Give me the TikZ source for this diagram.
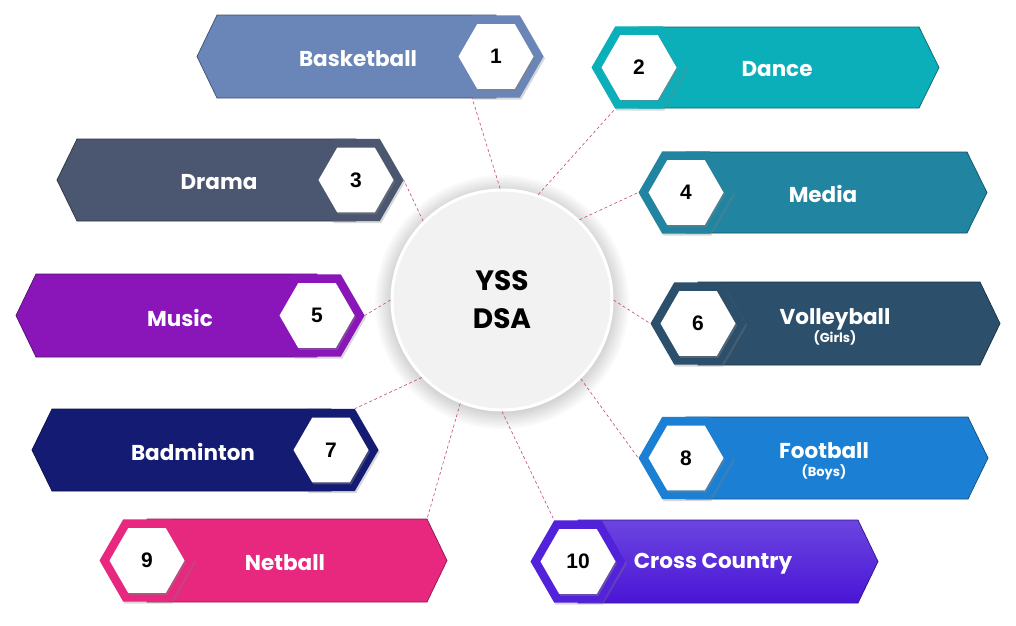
\documentclass[tikz,border=0pt]{standalone}
\usepackage{fontspec}
\setmainfont{Poppins}
\newfontfamily\numfont{Liberation Sans}
\newcommand\subsize{\fontsize{13}{15}\selectfont}
\usetikzlibrary{shapes.geometric,shadows}

\definecolor{cBasket}{HTML}{6A86B8}
\definecolor{cDance}{HTML}{0AAFB9}
\definecolor{cDrama}{HTML}{4B5670}
\definecolor{cMedia}{HTML}{2185A1}
\definecolor{cMusic}{HTML}{8A16BA}
\definecolor{cVolley}{HTML}{2C4F6B}
\definecolor{cBadmin}{HTML}{131B73}
\definecolor{cFoot}{HTML}{1B80D4}
\definecolor{cNet}{HTML}{E8277F}
\definecolor{cCrossTop}{HTML}{6B45E0}
\definecolor{cCross}{HTML}{5222DA}
\definecolor{cCrossBot}{HTML}{4A15D6}
\definecolor{cHub}{HTML}{F2F2F2}
\definecolor{cLink}{HTML}{C2467A}

\tikzset{
  outerhex/.style={regular polygon, regular polygon sides=6, minimum size=95pt,
    inner sep=0pt, drop shadow={opacity=0.3, shadow xshift=1.5pt, shadow yshift=-2pt}},
  innerhex/.style={regular polygon, regular polygon sides=6, minimum size=75pt,
    inner sep=0pt, fill=white, font=\numfont\bfseries\fontsize{21}{24}\selectfont,
    drop shadow={opacity=0.45, shadow xshift=1.5pt, shadow yshift=-2pt}},
  itemlabel/.style={text=white, align=center, font=\bfseries\fontsize{21.5}{24}\selectfont},
  hub/.style={circle, minimum size=220pt, inner sep=0pt, fill=cHub, draw=white,
    line width=3pt, align=center, font=\bfseries\fontsize{28}{38}\selectfont},
  link/.style={draw=cLink, line width=0.6pt, dash pattern=on 3pt off 2.5pt},
}

\begin{document}
\begin{tikzpicture}[x=1pt, y=-1pt]
  \useasboundingbox[fill=white] (0,0) rectangle (1016,625);

  % banners
  \fill[cBasket, draw=cBasket!60!black, line width=0.7pt] (197,56.5) -- (217,15) -- (496,15) -- (496,98) -- (217,98) -- cycle;
  \fill[cDance, draw=cDance!60!black, line width=0.7pt] (939,67.5) -- (919,27) -- (639,27) -- (639,108) -- (919,108) -- cycle;
  \fill[cDrama, draw=cDrama!60!black, line width=0.7pt] (57,180) -- (77,139) -- (356,139) -- (356,221) -- (77,221) -- cycle;
  \fill[cMedia, draw=cMedia!60!black, line width=0.7pt] (987,192.5) -- (967,152) -- (686,152) -- (686,233) -- (967,233) -- cycle;
  \fill[cMusic, draw=cMusic!60!black, line width=0.7pt] (16,315.5) -- (36,274) -- (317,274) -- (317,357) -- (36,357) -- cycle;
  \fill[cVolley, draw=cVolley!60!black, line width=0.7pt] (1000,323.5) -- (980,282) -- (698,282) -- (698,365) -- (980,365) -- cycle;
  \fill[cBadmin, draw=cBadmin!60!black, line width=0.7pt] (32,450) -- (52,409) -- (331,409) -- (331,491) -- (52,491) -- cycle;
  \fill[cFoot, draw=cFoot!60!black, line width=0.7pt] (988,458) -- (968,417) -- (686,417) -- (686,499) -- (968,499) -- cycle;
  \coordinate (c9) at (427,519);
  \fill[cNet, draw=cNet!60!black, line width=0.7pt] (447,560.5) -- (c9) -- (147,519) -- (147,602) -- (427,602) -- cycle;
  \shade[top color=cCrossTop, bottom color=cCrossBot, draw=cCross!60!black, line width=0.7pt] (878,561.5) -- (858,520) -- (578,520) -- (578,603) -- (858,603) -- cycle;

  % number hexagons
  \node[outerhex, fill=cBasket] (h1) at (496,56.5) {};
  \node[outerhex, fill=cDance] (h2) at (639,67.5) {};
  \node[outerhex, fill=cDrama] (h3) at (356,180) {};
  \node[outerhex, fill=cMedia] (h4) at (686,192.5) {};
  \node[outerhex, fill=cMusic] (h5) at (317,315.5) {};
  \node[outerhex, fill=cVolley] (h6) at (698,323.5) {};
  \node[outerhex, fill=cBadmin] (h7) at (331,450) {};
  \node[outerhex, fill=cFoot] (h8) at (686,458) {};
  \node[outerhex, fill=cNet] (h9) at (147,560.5) {};
  \node[outerhex, fill=cCross] (h10) at (578,561.5) {};

  \node[innerhex] (n1) at (h1) {1};
  \node[innerhex] (n2) at (h2) {2};
  \node[innerhex] (n3) at (h3) {3};
  \node[innerhex] (n4) at (h4) {4};
  \node[innerhex] (n5) at (h5) {5};
  \node[innerhex] (n6) at (h6) {6};
  \node[innerhex] (n7) at (h7) {7};
  \node[innerhex] (n8) at (h8) {8};
  \node[innerhex] (n9) at (h9) {9};
  \node[innerhex] (n10) at (h10) {10};

  % labels
  \node[itemlabel] (t1) at (358,58.5) {Basketball};
  \node[itemlabel] (t2) at (777,69.5) {Dance};
  \node[itemlabel] (t3) at (219,182) {Drama};
  \node[itemlabel] (t4) at (823,194) {Media};
  \node[itemlabel] (t5) at (180,317.5) {Music};
  \node[itemlabel] (t6) at (835,327) {Volleyball\\[-6pt]{\subsize (Girls)}};
  \node[itemlabel] (t7) at (193,452) {Badminton};
  \node[itemlabel] (t8) at (824,461) {Football\\[-6pt]{\subsize (Boys)}};
  \node[itemlabel] (t9) at (285,562.5) {Netball};
  \node[itemlabel] (t10) at (713,563.5) {Cross Country};

  % centre
  \foreach \r in {111,113,...,127}
    \fill[black, opacity=0.02] (502,302) circle[radius=\r pt];
  \node[hub] (hub) at (502,300) {YSS\\DSA};

  % links
  \draw[link] (hub.91) -- (h1.240);
  \draw[link] (hub.71) -- (h2.240);
  \draw[link] (hub.135) -- (h3.0);
  \draw[link] (hub.46) -- (h4.180);
  \draw[link] (hub.180) -- (h5.0);
  \draw[link] (hub.0) -- (h6.180);
  \draw[link] (hub.224) -- (h7.60);
  \draw[link] (hub.315) -- (h8.180);
  \draw[link] (hub.248) -- (c9);
  \draw[link] (hub.270) -- (h10.120);
\end{tikzpicture}
\end{document}
